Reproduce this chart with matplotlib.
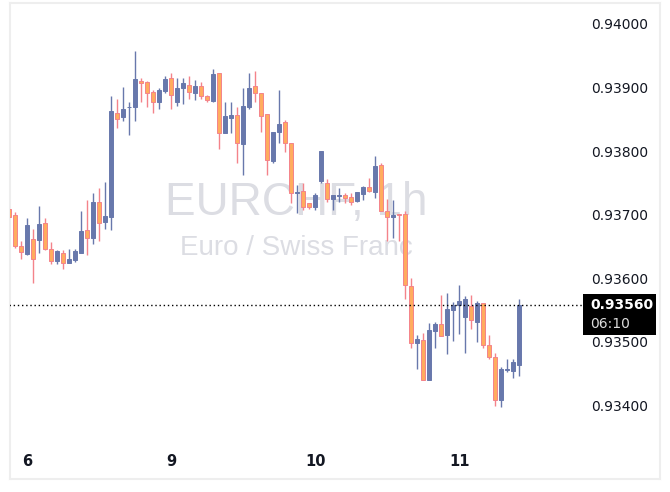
import numpy as np
import matplotlib
matplotlib.use("Agg")
import matplotlib.pyplot as plt
from matplotlib.patches import Rectangle

# ---- data: EURCHF 1h candles, hour index 0 = day 6 00:00 ----
hours = np.arange(-3, 83)
opens = [0.93711, 0.93702, 0.93653, 0.93640, 0.93664, 0.93662, 0.93689, 0.93648, 0.93630, 0.93642,
         0.93627, 0.93631, 0.93642, 0.93678, 0.93666, 0.93722, 0.93691, 0.93699, 0.93862, 0.93856,
         0.93871, 0.93872, 0.93912, 0.93911, 0.93895, 0.93880, 0.93897, 0.93917, 0.93880, 0.93902,
         0.93906, 0.93893, 0.93905, 0.93889, 0.93881, 0.93925, 0.93831, 0.93855, 0.93859, 0.93813,
         0.93872, 0.93905, 0.93894, 0.93861, 0.93787, 0.93833, 0.93848, 0.93815, 0.93736, 0.93739,
         0.93720, 0.93715, 0.93756, 0.93752, 0.93727, 0.93732, 0.93733, 0.93730, 0.93724, 0.93735,
         0.93746, 0.93738, 0.93780, 0.93708, 0.93699, 0.93703, 0.93703, 0.93590, 0.93501, 0.93505,
         0.93442, 0.93520, 0.93530, 0.93513, 0.93553, 0.93560, 0.93542, 0.93559, 0.93534, 0.93564,
         0.93498, 0.93479, 0.93410, 0.93458, 0.93457, 0.93465]
highs = [0.93714, 0.93707, 0.93661, 0.93697, 0.93680, 0.93716, 0.93697, 0.93659, 0.93647, 0.93646,
         0.93648, 0.93648, 0.93708, 0.93725, 0.93736, 0.93744, 0.93754, 0.93889, 0.93884, 0.93903,
         0.93880, 0.93960, 0.93917, 0.93913, 0.93899, 0.93902, 0.93921, 0.93925, 0.93918, 0.93917,
         0.93921, 0.93915, 0.93911, 0.93891, 0.93932, 0.93925, 0.93879, 0.93879, 0.93872, 0.93902,
         0.93925, 0.93928, 0.93894, 0.93861, 0.93833, 0.93899, 0.93852, 0.93815, 0.93749, 0.93752,
         0.93720, 0.93736, 0.93803, 0.93758, 0.93734, 0.93744, 0.93737, 0.93737, 0.93738, 0.93748,
         0.93760, 0.93795, 0.93784, 0.93727, 0.93725, 0.93704, 0.93708, 0.93603, 0.93513, 0.93516,
         0.93532, 0.93534, 0.93576, 0.93579, 0.93565, 0.93592, 0.93575, 0.93576, 0.93566, 0.93564,
         0.93513, 0.93484, 0.93463, 0.93476, 0.93476, 0.93570]
lows = [0.93697, 0.93650, 0.93633, 0.93639, 0.93595, 0.93642, 0.93647, 0.93625, 0.93624, 0.93617,
        0.93627, 0.93628, 0.93642, 0.93639, 0.93656, 0.93661, 0.93680, 0.93678, 0.93839, 0.93850,
        0.93828, 0.93849, 0.93880, 0.93872, 0.93863, 0.93869, 0.93894, 0.93869, 0.93874, 0.93877,
        0.93884, 0.93883, 0.93884, 0.93880, 0.93880, 0.93806, 0.93831, 0.93831, 0.93784, 0.93764,
        0.93869, 0.93880, 0.93833, 0.93764, 0.93783, 0.93815, 0.93801, 0.93721, 0.93705, 0.93710,
        0.93712, 0.93710, 0.93752, 0.93723, 0.93710, 0.93723, 0.93721, 0.93718, 0.93723, 0.93725,
        0.93738, 0.93729, 0.93708, 0.93661, 0.93666, 0.93661, 0.93570, 0.93493, 0.93459, 0.93442,
        0.93442, 0.93493, 0.93512, 0.93483, 0.93504, 0.93515, 0.93485, 0.93523, 0.93502, 0.93493,
        0.93476, 0.93401, 0.93400, 0.93455, 0.93446, 0.93449]
closes = [0.93699, 0.93653, 0.93643, 0.93686, 0.93633, 0.93688, 0.93648, 0.93630, 0.93645, 0.93626,
          0.93633, 0.93645, 0.93677, 0.93666, 0.93722, 0.93690, 0.93700, 0.93865, 0.93853, 0.93869,
          0.93872, 0.93916, 0.93910, 0.93894, 0.93879, 0.93899, 0.93916, 0.93890, 0.93902, 0.93910,
          0.93895, 0.93905, 0.93889, 0.93882, 0.93924, 0.93831, 0.93858, 0.93859, 0.93815, 0.93873,
          0.93902, 0.93893, 0.93858, 0.93788, 0.93833, 0.93845, 0.93815, 0.93736, 0.93737, 0.93715,
          0.93714, 0.93733, 0.93803, 0.93727, 0.93734, 0.93733, 0.93729, 0.93723, 0.93738, 0.93746,
          0.93740, 0.93779, 0.93708, 0.93698, 0.93702, 0.93702, 0.93591, 0.93501, 0.93507, 0.93442,
          0.93521, 0.93530, 0.93512, 0.93554, 0.93560, 0.93566, 0.93570, 0.93536, 0.93564, 0.93497,
          0.93478, 0.93411, 0.93459, 0.93459, 0.93471, 0.93560]

day_hours = [0, 24, 48, 72]
day_labels = ["6", "9", "10", "11"]
price_ticks = [0.940, 0.939, 0.938, 0.937, 0.936, 0.935, 0.934]
last_price = 0.93560
countdown = "06:10"
symbol = "EURCHF, 1h"
description = "Euro / Swiss Franc"

UP_COL = '#6878ac'
DN_FILL = '#ffac5e'
DN_EDGE = '#f4838a'

fig = plt.figure(figsize=(6.7, 4.92), dpi=100)
# axes covers the whole framed panel (10..660 px wide, 3..479 px tall)
ax = fig.add_axes([10/670, 13/492, 650/670, 476/492])
ax.set_xlim(-2.883, 105.45)
ax.set_ylim(0.932864, 0.940354)

o = np.array(opens); h = np.array(highs); l = np.array(lows); c = np.array(closes)
up = c >= o

# watermark behind candles
ax.text(0.4411, 0.5546, symbol, transform=ax.transAxes, ha='center', va='baseline',
        fontsize=33, family='Liberation Sans', color='#dcdde3', zorder=0)
ax.text(0.4411, 0.4706, description, transform=ax.transAxes, ha='center', va='baseline',
        fontsize=20, family='Liberation Sans', color='#dcdde3', zorder=0)

# wicks
ax.vlines(hours[up], l[up], h[up], color=UP_COL, lw=1.0, zorder=2)
ax.vlines(hours[~up], l[~up], h[~up], color=DN_EDGE, lw=1.0, zorder=2)

# bodies
bot = np.minimum(o, c)
hgt = np.maximum(np.abs(c - o), 0.000014)
ax.bar(hours[up], hgt[up], bottom=bot[up], width=0.6, color=UP_COL,
       edgecolor=UP_COL, linewidth=0.7, zorder=3)
ax.bar(hours[~up], hgt[~up], bottom=bot[~up], width=0.6, color=DN_FILL,
       edgecolor=DN_EDGE, linewidth=0.7, zorder=3)

# last price dotted line and tag
ax.plot([-3, (583 - 27.3) / 6], [last_price, last_price], color='black',
        lw=1.0, linestyle=(0, (1, 2)), zorder=4)
ax.add_patch(Rectangle((573 / 650, (479 - 335) / 476), 73 / 650, 41 / 476,
                       transform=ax.transAxes, facecolor='black', edgecolor='none', zorder=5))
ax.text(580 / 650, (479 - 305) / 476, f"{last_price:.5f}", transform=ax.transAxes,
        ha='left', va='center', fontsize=10, fontweight='bold', color='white', zorder=6)
ax.text(580 / 650, (479 - 324) / 476, countdown, transform=ax.transAxes,
        ha='left', va='center', fontsize=10, color='#dcdcdc', zorder=6)

# price scale labels
for p in price_ticks:
    ax.text(638 / 650, p, f"{p:.5f}", transform=ax.get_yaxis_transform(),
            ha='right', va='center', fontsize=10, color='#131722')

# day labels
for hh, lab in zip(day_hours, day_labels):
    ax.text(hh, (479 - 462) / 476, lab, transform=ax.get_xaxis_transform(),
            ha='center', va='center', fontsize=10.5, fontweight='bold', color='#131722')

ax.set_xticks([]); ax.set_yticks([])
for s in ax.spines.values():
    s.set_color('#eeeeee'); s.set_linewidth(1.5)

fig.savefig('out.png', dpi=100, facecolor='white')
